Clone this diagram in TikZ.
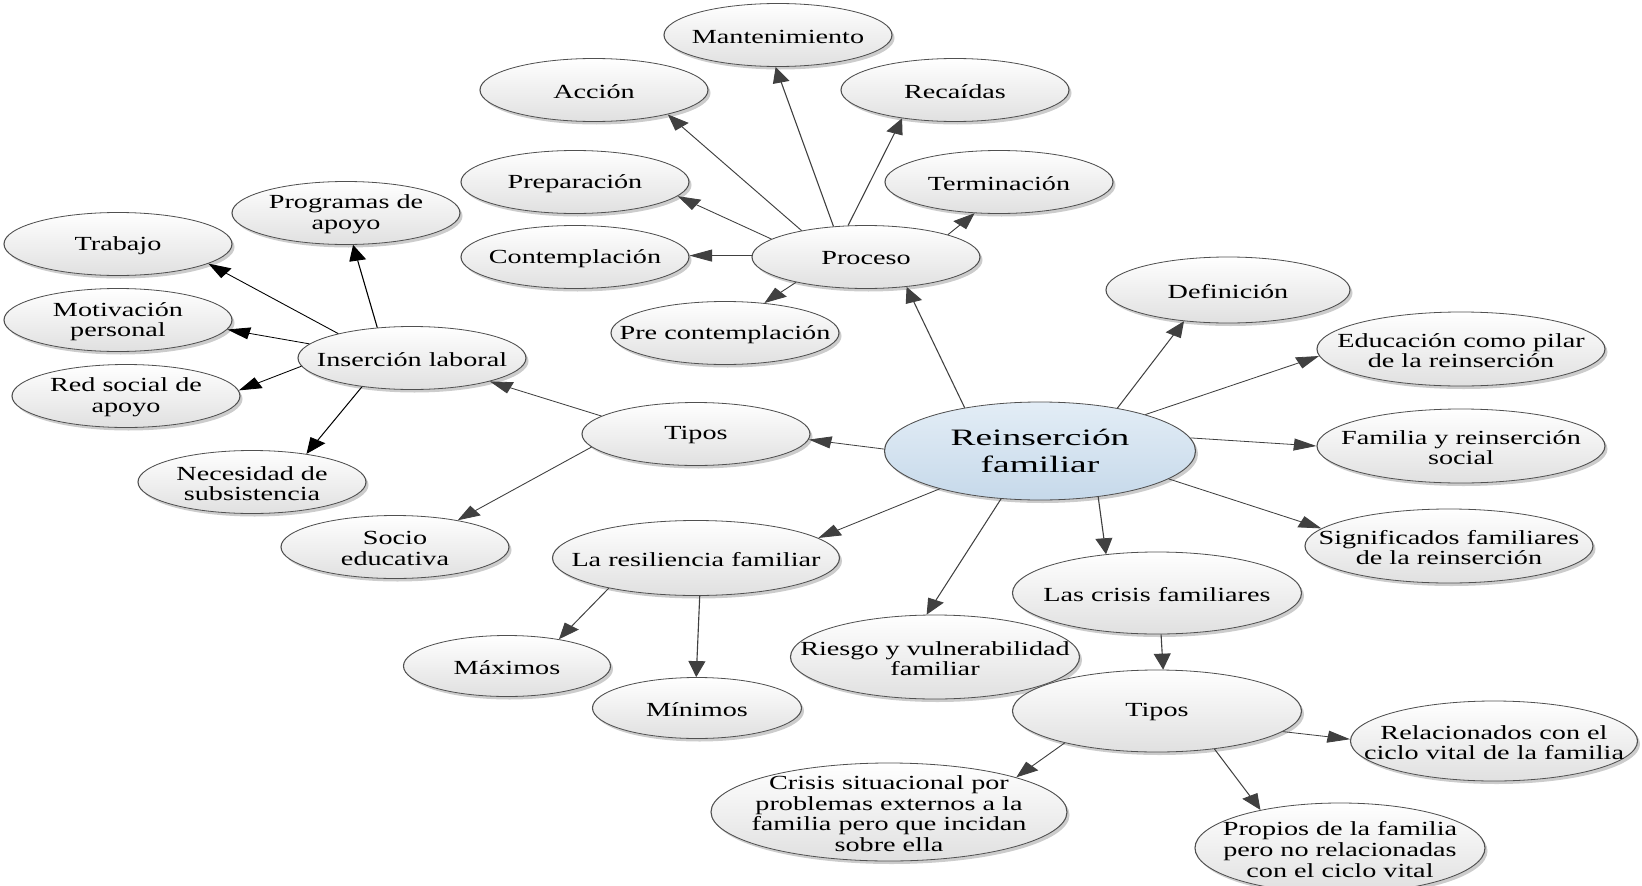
\documentclass[tikz,border=0pt]{standalone}
\usepackage{fontspec}
\setmainfont{Liberation Serif}
\newfontfamily\bigfont{Liberation Serif}[FakeStretch=1.13]
\usetikzlibrary{shapes.geometric,arrows.meta,shadows}
\definecolor{edgecol}{HTML}{404040}
\definecolor{bordcol}{HTML}{505050}
\definecolor{fillbot}{HTML}{E0E0E0}
\definecolor{bluetop}{HTML}{E3EDF6}
\definecolor{bluebot}{HTML}{C6D9EA}
\tikzset{
  ell/.style={ellipse, draw=bordcol, line width=0.8pt, inner sep=0pt,
    top color=white, bottom color=fillbot,
    drop shadow={shadow xshift=1.8pt, shadow yshift=-3pt, opacity=0.2, fill=black}},
  txt/.style={align=center, inner sep=0pt, yshift=-1.5pt, font=\fontsize{20}{20.6}\selectfont},
  bigtxt/.style={align=center, inner sep=0pt, font=\bigfont\fontsize{23.5}{27}\selectfont},
  arr/.style={draw=edgecol, line width=0.8pt, -{Triangle[length=16pt,width=12pt]}},
  arrk/.style={arr, draw=black},
}
\newcommand\ellnode[6][]{%
  \node[ell, minimum width={#4pt*0.70922}, minimum height=#5pt, #1] (#2) at (#3) {};
  \node[txt] (#2t) at (#2.center) {#6};}
\begin{document}
\begin{tikzpicture}[x=1pt, y=-1pt]
\useasboundingbox (0,0) rectangle (1642,886);
\begin{scope}[transform canvas={xscale=1.41}, x=0.70922pt]
% Proceso group
\ellnode{mant}{778,35}{228}{63}{Mantenimiento}
\ellnode{acc}{594,90}{228}{63}{Acción}
\ellnode{rec}{955,90}{228}{63}{Recaídas}
\ellnode{prep}{575,182}{228}{63}{Preparación}
\ellnode{term}{999,182}{228}{63}{Terminación}
\ellnode{cont}{575,257}{228}{63}{Contemplación}
\ellnode{proc}{866,257}{228}{63}{Proceso}
\ellnode{pre}{725,333}{228}{63}{Pre contemplación}
% Insercion group
\ellnode{prog}{346,213}{228}{63}{Programas de\\apoyo}
\ellnode{trab}{118,244}{228}{63}{Trabajo}
\ellnode{motiv}{118,320}{228}{63}{Motivación\\personal}
\ellnode{ins}{412,358}{228}{63}{Inserción laboral}
\ellnode{red}{126,396}{228}{63}{Red social de\\apoyo}
\ellnode{nec}{252,482}{228}{63}{Necesidad de\\subsistencia}
\ellnode{tiposl}{696,434}{228}{63}{Tipos}
\ellnode{socio}{395,547}{228}{63}{Socio\\educativa}
% centre
\node[ell, minimum width={311pt*0.70922}, minimum height=98pt, top color=bluetop, bottom color=bluebot] (reins) at (1040,451) {};
\node[bigtxt] (reinst) at (reins.center) {Reinserción\\familiar};
% lower left
\ellnode{resil}{696,558}{287}{75}{La resiliencia familiar}
\ellnode{max}{507,666}{207}{61}{Máximos}
\ellnode{min}{697,708}{209}{61}{Mínimos}
\ellnode{riesgo}{935,657}{289}{84}{Riesgo y vulnerabilidad\\familiar}
% crisis
\ellnode{crisis}{1157,593}{289}{82}{Las crisis familiares}
\ellnode{tiposb}{1157,711}{289}{82}{Tipos}
\ellnode{rel}{1494,741}{287}{80}{Relacionados con el\\ciclo vital de la familia}
\ellnode{crissit}{889,812}{356}{98}{Crisis situacional por\\problemas externos a la\\familia pero que incidan\\sobre ella}
\ellnode{prop}{1340,848}{290}{90}{Propios de la familia\\pero no relacionadas\\con el ciclo vital}
% right
\ellnode{def}{1228,290}{244}{66}{Definición}
\ellnode{edu}{1461,349}{288}{74}{Educación como pilar\\de la reinserción}
\ellnode{fam}{1461,446}{288}{74}{Familia y reinserción\\social}
\ellnode{sig}{1449,546}{288}{74}{Significados familiares\\de la reinserción}
% connectors
\draw[arr] (proc.127) -- (mant.267);
\draw[arr] (proc.150) -- (acc.-25);
\draw[arr] (proc.112) -- (rec.217);
\draw[arr] (proc.165) -- (prep.-11);
\draw[arr] (proc.21) -- (term.241);
\draw[arr] (proc.179) -- (cont.1);
\draw[arr] (proc.207) -- (pre.47);
\draw[arrk] (ins.129) -- (prog.279);
\draw[arrk] (ins.155) -- (trab.-17);
\draw[arrk] (ins.169) -- (motiv.-7);
\draw[arrk] (ins.186) -- (red.4);
\draw[arrk] (ins.219) -- (nec.36);
\draw[arr] (tiposl.165) -- (ins.-23);
\draw[arr] (tiposl.190) -- (socio.31);
\draw[arr] (reins.141) -- (proc.-46);
\draw[arr] (reins.179) -- (tiposl.-4);
\draw[arr] (reins.208) -- (resil.13);
\draw[arr] (reins.240) -- (riesgo.98);
\draw[arr] (reins.-48) -- (crisis.133);
\draw[arr] (reins.38) -- (def.225);
\draw[arr] (reins.26) -- (edu.184);
\draw[arr] (reins.7) -- (fam.180);
\draw[arr] (reins.-17) -- (sig.169);
\draw[arr] (resil.206) -- (max.36);
\draw[arr] (resil.274) -- (min.91);
\draw[arr] (crisis.274) -- (tiposb.84);
\draw[arr] (tiposb.-13) -- (rel.179);
\draw[arr] (tiposb.206) -- (crissit.21);
\draw[arr] (tiposb.-43) -- (prop.146);
\end{scope}
\end{tikzpicture}
\end{document}
